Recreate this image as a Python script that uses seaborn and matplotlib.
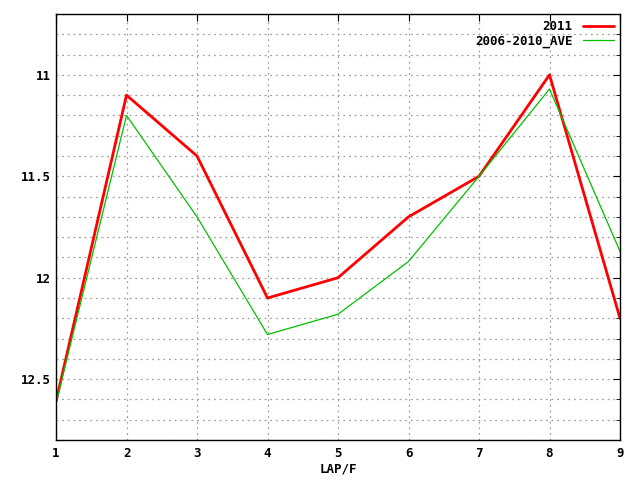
import numpy as np
import pandas as pd
import seaborn as sns
import matplotlib
matplotlib.use("Agg")
import matplotlib.pyplot as plt
from matplotlib.ticker import MultipleLocator

laps = [1, 2, 3, 4, 5, 6, 7, 8, 9]
y2011 = [12.61, 11.10, 11.40, 12.10, 12.00, 11.70, 11.50, 11.00, 12.20]
y_ave = [12.62, 11.20, 11.70, 12.28, 12.18, 11.92, 11.50, 11.07, 11.87]

df = pd.DataFrame({"lap": laps * 2,
                   "time": y2011 + y_ave,
                   "series": ["2011"] * 9 + ["2006-2010_AVE"] * 9})

sns.set_style("white")
plt.rcParams["font.family"] = ["DejaVu Sans Mono"]
plt.rcParams["font.weight"] = "bold"
for k in ["text.color", "axes.labelcolor", "xtick.color", "ytick.color"]:
    plt.rcParams[k] = "black"

fig = plt.figure(figsize=(6.4, 4.8), dpi=100)
ax = fig.add_axes([56 / 640, 40 / 480, 564 / 640, 426 / 480])

sns.lineplot(data=df, x="lap", y="time", hue="series", size="series",
             palette={"2011": "#ff0000", "2006-2010_AVE": "#00c000"},
             sizes={"2011": 2.0, "2006-2010_AVE": 0.9},
             ax=ax, legend=True)

ax.set_xlim(1, 9)
ax.set_ylim(12.8, 10.7)
ax.set_xticks(laps)
ax.yaxis.set_major_locator(MultipleLocator(0.5))
ax.yaxis.set_minor_locator(MultipleLocator(0.1))
ax.set_yticks([11, 11.5, 12, 12.5])
ax.set_yticklabels(["11", "11.5", "12", "12.5"])
grid_style = dict(color="#a0a0a0", linestyle=(0, (1.5, 3)), linewidth=0.9)
ax.grid(True, which="both", axis="y", **grid_style)
ax.grid(True, which="major", axis="x", **grid_style)
ax.tick_params(which="both", direction="in", top=True, right=True, labelsize=9)
ax.tick_params(which="major", length=5)
ax.tick_params(which="minor", length=3)
ax.tick_params(axis="x", pad=5)
for s in ax.spines.values():
    s.set_color("black")
    s.set_linewidth(1)

ax.set_xlabel("LAP/F", fontsize=9, fontweight="bold", labelpad=2)
ax.set_ylabel("")

leg = ax.legend(loc="upper right", frameon=False, markerfirst=False,
                fontsize=9, handlelength=2.5, borderaxespad=0.1,
                labelspacing=0.1)
for t in leg.get_texts():
    t.set_ha("right")

fig.savefig("out.png", dpi=100)
